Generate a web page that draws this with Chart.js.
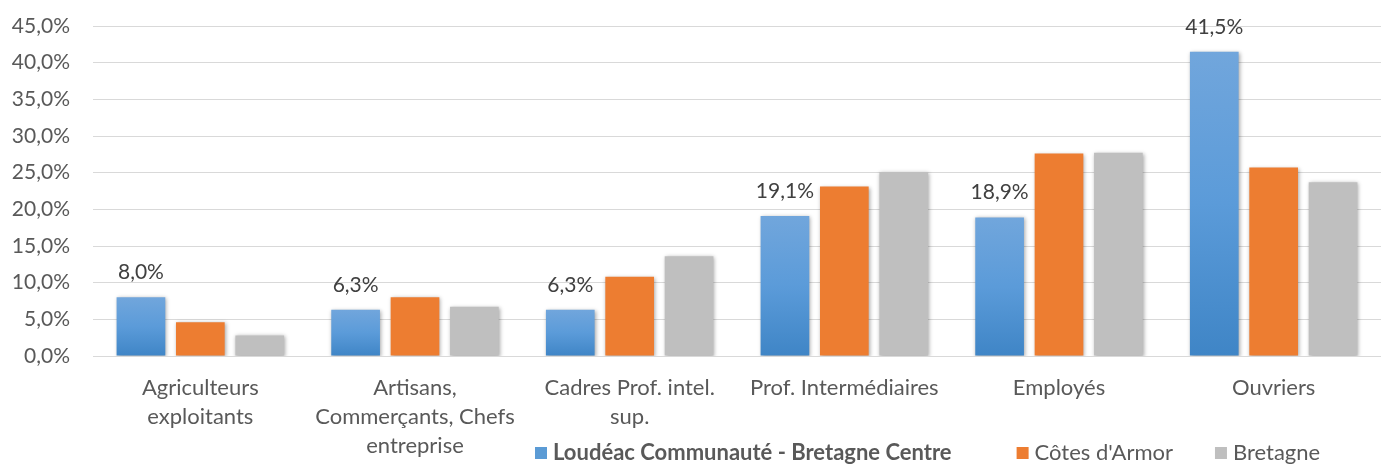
<!DOCTYPE html>
<html>
<head>
<meta charset="utf-8">
<script src="https://cdn.jsdelivr.net/npm/chart.js@4/dist/chart.umd.min.js"></script>
<style>
  html, body { margin: 0; padding: 0; background: #fff; }
  #wrap { width: 1381px; height: 464px; }
</style>
</head>
<body>
<div id="wrap"><canvas id="chart" width="1381" height="464"></canvas></div>
<script>
// categories (multi-line labels as in the original)
var categories = [
    ['Agriculteurs', 'exploitants'],
    ['Artisans,', 'Commerçants, Chefs', 'entreprise'],
    ['Cadres Prof. intel.', 'sup.'],
    'Prof. Intermédiaires',
    'Employés',
    'Ouvriers'
];
var seriesNames = ['Loudéac Communauté - Bretagne Centre', "Côtes d'Armor", 'Bretagne'];
var loudeac = [8.0, 6.3, 6.3, 19.1, 18.9, 41.5];
var cotesArmor = [4.6, 8.0, 10.8, 23.1, 27.6, 25.7];
var bretagne = [2.8, 6.7, 13.6, 25.1, 27.7, 23.7];
var yMin = 0, yMax = 45, yStep = 5;

var FONT = 'Lato';
var TEXT = '#595959';

function pct(v) {
    return v.toFixed(1).replace('.', ',') + '%';
}

// blue bars: light top -> darker bottom, per bar
function blueGradient(ctx) {
    var chart = ctx.chart;
    if (!chart.chartArea || ctx.type !== 'data') return '#5b9bd5';
    var y = chart.scales.y;
    var top = y.getPixelForValue(ctx.raw);
    var base = y.getPixelForValue(0);
    if (!isFinite(top) || top >= base) return '#5b9bd5';
    var g = chart.ctx.createLinearGradient(0, top, 0, base);
    g.addColorStop(0, '#71a6dc');
    g.addColorStop(0.5, '#5b9bd9');
    g.addColorStop(1, '#3f85c6');
    return g;
}

// soft shadow around bars, like the office chart
var shadowPlugin = {
    id: 'barShadow',
    beforeDatasetsDraw: function(chart) {
        var c = chart.ctx;
        c.save();
        c.shadowColor = 'rgba(0,0,0,0.35)';
        c.shadowBlur = 4;
        c.shadowOffsetX = 1;
        c.shadowOffsetY = 1;
    },
    afterDatasetsDraw: function(chart) {
        chart.ctx.restore();
    }
};

// value labels above the first series
var valueLabels = {
    id: 'valueLabels',
    afterDatasetsDraw: function(chart) {
        var c = chart.ctx;
        var meta = chart.getDatasetMeta(0);
        c.save();
        c.font = '21px ' + FONT;
        c.fillStyle = '#404040';
        c.textAlign = 'center';
        c.textBaseline = 'alphabetic';
        meta.data.forEach(function(bar, i) {
            c.fillText(pct(loudeac[i]), bar.x, bar.y - 18);
        });
        c.restore();
    }
};

// legend drawn on the bottom row, next to the wrapped labels
var bottomLegend = {
    id: 'bottomLegend',
    afterDraw: function(chart) {
        var c = chart.ctx;
        var x = 535, yMid = 453, box = 12, gap = 6;
        var spacing = [65, 42, 0];
        c.save();
        c.textBaseline = 'middle';
        c.textAlign = 'left';
        chart.data.datasets.forEach(function(ds, i) {
            c.fillStyle = ds.legendColor;
            c.fillRect(x, yMid - box / 2, box, box);
            c.font = (i === 0 ? 'bold ' : '') + '22px ' + FONT;
            c.fillStyle = TEXT;
            c.fillText(ds.label, x + box + gap, yMid);
            x += box + gap + c.measureText(ds.label).width + spacing[i];
        });
        c.restore();
    }
};

var ctx = document.getElementById('chart').getContext('2d');
new Chart(ctx, {
    type: 'bar',
    data: {
        labels: categories,
        datasets: [{
            label: seriesNames[0],
            data: loudeac,
            backgroundColor: blueGradient,
            legendColor: '#5b9bd5'
        }, {
            label: seriesNames[1],
            data: cotesArmor,
            backgroundColor: '#ed7d31',
            legendColor: '#ed7d31'
        }, {
            label: seriesNames[2],
            data: bretagne,
            backgroundColor: '#bfbfbf',
            legendColor: '#bfbfbf'
        }]
    },
    options: {
        responsive: false,
        animation: false,
        categoryPercentage: 0.83,
        barPercentage: 0.82,
        layout: { padding: { top: 26, right: 0, left: 0, bottom: 0 } },
        plugins: {
            legend: { display: false },
            tooltip: { enabled: false }
        },
        scales: {
            x: {
                grid: { display: false, drawTicks: false },
                border: { display: false },
                ticks: {
                    color: TEXT,
                    font: { family: FONT, size: 22, lineHeight: 1.3 },
                    maxRotation: 0,
                    autoSkip: false,
                    padding: 18
                },
                afterFit: function(scale) { scale.height = 108; }
            },
            y: {
                min: yMin,
                max: yMax,
                grid: {
                    color: '#d9d9d9',
                    lineWidth: 1,
                    drawTicks: true,
                    tickLength: 23,
                    tickColor: 'rgba(0,0,0,0)'
                },
                border: { display: false },
                ticks: {
                    stepSize: yStep,
                    color: TEXT,
                    font: { family: FONT, size: 21 },
                    padding: 0,
                    callback: function(v) { return pct(v); }
                },
                afterFit: function(scale) { scale.width = 93; }
            }
        }
    },
    plugins: [shadowPlugin, valueLabels, bottomLegend]
});
</script>
</body>
</html>
